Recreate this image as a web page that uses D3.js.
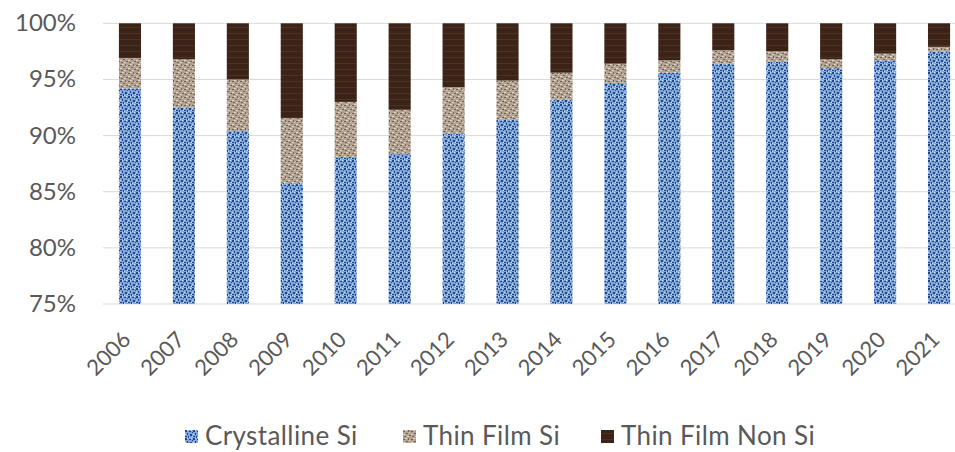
<!DOCTYPE html>
<html>
<head>
<meta charset="utf-8">
<script src="https://cdn.jsdelivr.net/npm/d3@7"></script>
<style>
  body { margin: 0; background: #fff; }
  text { font-family: Lato, "Open Sans", sans-serif; fill: #595959; }
</style>
</head>
<body>
<script>
// Chart data (percent of total)
var years = ["2006", "2007", "2008", "2009", "2010", "2011", "2012", "2013",
             "2014", "2015", "2016", "2017", "2018", "2019", "2020", "2021"];
var crystallineSi = [94.2, 92.5, 90.4, 85.8, 88.1, 88.4, 90.2, 91.4,
                     93.2, 94.7, 95.6, 96.4, 96.6, 96.0, 96.7, 97.5];
var thinFilmSi = [2.7, 4.3, 4.6, 5.75, 4.9, 3.9, 4.1, 3.5,
                  2.4, 1.7, 1.1, 1.2, 0.9, 0.8, 0.6, 0.4];
var seriesNames = ["Crystalline Si", "Thin Film Si", "Thin Film Non Si"];
var yTicks = [75, 80, 85, 90, 95, 100];

var width = 955, height = 452;
var margin = {top: 23.3, left: 103, bottom: 304};

var svg = d3.select("body").append("svg")
    .attr("width", width)
    .attr("height", height);

// Textured fills, roughly like the Office pattern fills
var defs = svg.append("defs");

var p1 = defs.append("pattern").attr("id", "pat0")
    .attr("patternUnits", "userSpaceOnUse").attr("width", 8).attr("height", 8);
p1.append("rect").attr("width", 8).attr("height", 8).attr("fill", "#7fa6df");
[[0, 0, 2, 2], [4, 1, 2, 1], [2, 3, 1, 2], [5, 4, 2, 2], [0, 6, 2, 1], [3, 6, 1, 2], [7, 2, 1, 1]]
  .forEach(function(r) {
    p1.append("rect").attr("x", r[0]).attr("y", r[1]).attr("width", r[2]).attr("height", r[3]).attr("fill", "#1d4388");
  });
[[2, 0, 1, 1], [6, 0, 1, 1], [0, 4, 1, 1], [4, 7, 1, 1], [7, 6, 1, 1]]
  .forEach(function(r) {
    p1.append("rect").attr("x", r[0]).attr("y", r[1]).attr("width", r[2]).attr("height", r[3]).attr("fill", "#c8dcf7");
  });

var p2 = defs.append("pattern").attr("id", "pat1")
    .attr("patternUnits", "userSpaceOnUse").attr("width", 8).attr("height", 8);
p2.append("rect").attr("width", 8).attr("height", 8).attr("fill", "#b3a392");
[[0, 1, 2, 1], [3, 3, 2, 1], [6, 5, 2, 1], [1, 6, 2, 1], [5, 0, 1, 2]]
  .forEach(function(r) {
    p2.append("rect").attr("x", r[0]).attr("y", r[1]).attr("width", r[2]).attr("height", r[3]).attr("fill", "#74614f");
  });
[[2, 0, 2, 1], [6, 2, 1, 1], [0, 4, 2, 1], [4, 6, 2, 1]]
  .forEach(function(r) {
    p2.append("rect").attr("x", r[0]).attr("y", r[1]).attr("width", r[2]).attr("height", r[3]).attr("fill", "#ddd3c7");
  });

var p3 = defs.append("pattern").attr("id", "pat2")
    .attr("patternUnits", "userSpaceOnUse").attr("width", 8).attr("height", 6);
p3.append("rect").attr("width", 8).attr("height", 6).attr("fill", "#3b2417");
p3.append("rect").attr("y", 3).attr("width", 8).attr("height", 1).attr("fill", "#4d3222");

// Scales
var x = d3.scaleBand()
    .domain(years)
    .range([margin.left, 966])
    .paddingInner(0.59)
    .paddingOuter(0.295);

var y = d3.scaleLinear()
    .domain([75, 100])
    .range([margin.bottom, margin.top]);

// Gridlines
svg.append("g")
  .selectAll("line")
  .data(yTicks)
  .enter().append("line")
    .attr("x1", margin.left)
    .attr("x2", width)
    .attr("y1", function(d) { return y(d); })
    .attr("y2", function(d) { return y(d); })
    .attr("stroke", "#d9d9d9")
    .attr("stroke-width", 1);

// Y axis labels
svg.append("g")
  .selectAll("text")
  .data(yTicks)
  .enter().append("text")
    .attr("x", 76)
    .attr("y", function(d) { return y(d) + 8; })
    .attr("text-anchor", "end")
    .style("font-size", "24px")
    .text(function(d) { return d + "%"; });

// Stack the three series
var rows = years.map(function(yr, i) {
  return {
    year: yr,
    c: crystallineSi[i],
    t: thinFilmSi[i],
    n: 100 - crystallineSi[i] - thinFilmSi[i]
  };
});
var stack = d3.stack().keys(["c", "t", "n"]);
var layers = stack(rows);

svg.append("g")
  .selectAll("g")
  .data(layers)
  .enter().append("g")
    .attr("fill", function(d, i) { return "url(#pat" + i + ")"; })
  .selectAll("rect")
  .data(function(d) { return d; })
  .enter().append("rect")
    .attr("x", function(d) { return x(d.data.year); })
    .attr("width", x.bandwidth())
    .attr("y", function(d) { return y(Math.min(d[1], 100)); })
    .attr("height", function(d) { return y(Math.max(d[0], 75)) - y(Math.min(d[1], 100)); });

// X axis labels, rotated
svg.append("g")
  .selectAll("text")
  .data(years)
  .enter().append("text")
    .attr("transform", function(d) {
      return "translate(" + (x(d) + x.bandwidth() / 2 + 2) + "," + 341 + ") rotate(-45)";
    })
    .attr("text-anchor", "end")
    .style("font-size", "22px")
    .text(function(d) { return d; });

// Legend
var legendX = [185, 403, 601];
var legend = svg.append("g")
  .selectAll("g")
  .data(seriesNames)
  .enter().append("g")
    .attr("transform", function(d, i) { return "translate(" + legendX[i] + ",430)"; });

legend.append("rect")
    .attr("width", 13)
    .attr("height", 13)
    .attr("fill", function(d, i) { return "url(#pat" + i + ")"; });

legend.append("text")
    .attr("x", 20)
    .attr("y", 15)
    .style("font-size", "26px")
    .style("letter-spacing", "0.4px")
    .text(function(d) { return d; });
</script>
</body>
</html>
